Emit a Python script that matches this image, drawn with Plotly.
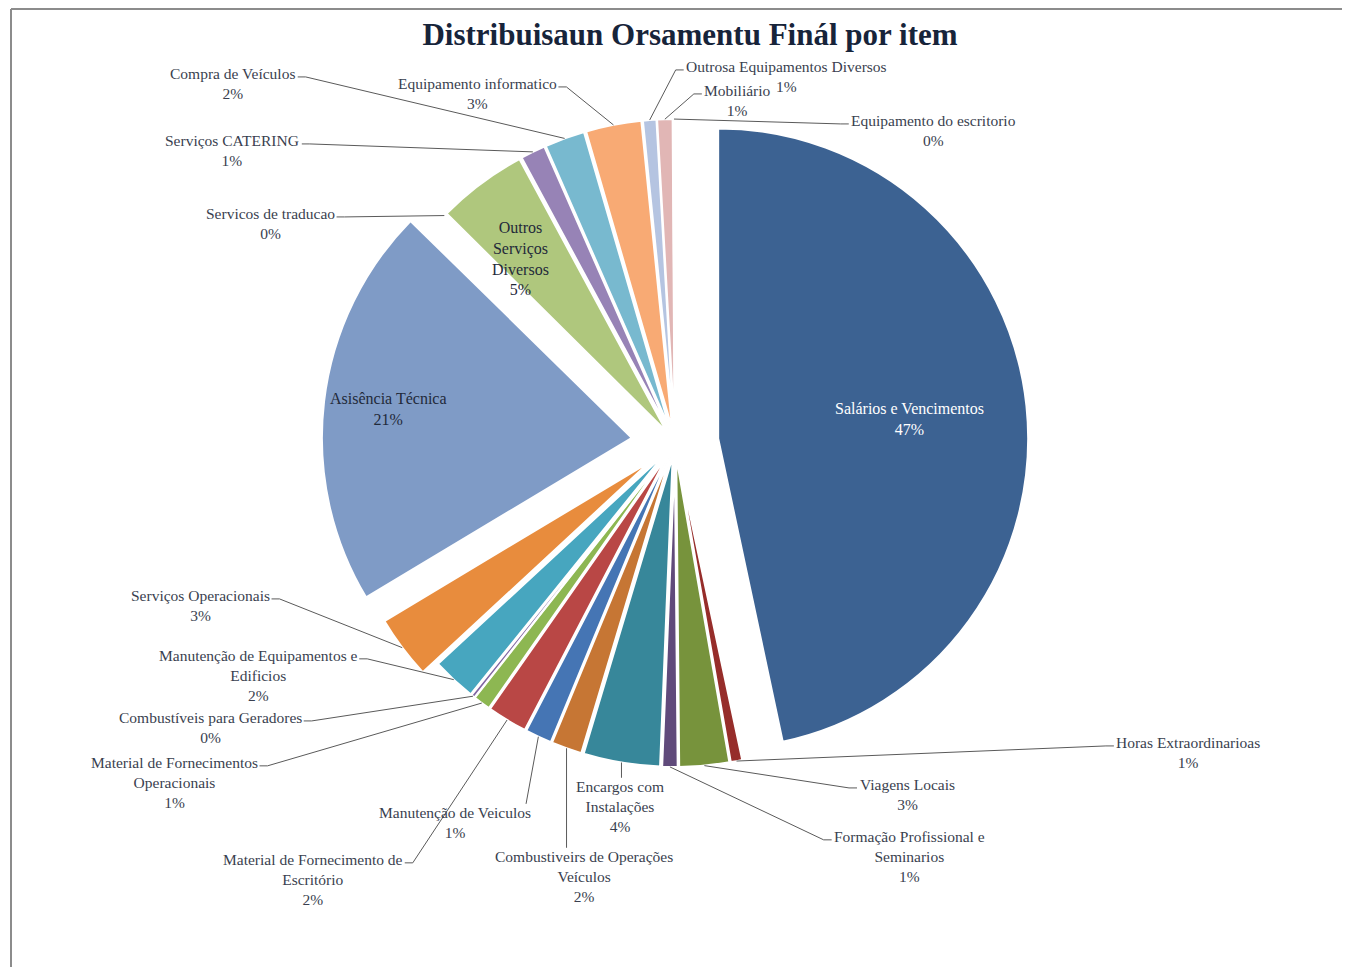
import math
import plotly.graph_objects as go

# ---------------- data (clockwise from 12 o'clock) ----------------
categories = [
    "Salários e Vencimentos",
    "Horas Extraordinarioas",
    "Viagens Locais",
    "Formação Profissional e Seminarios",
    "Encargos com Instalações",
    "Combustiveirs de Operações Veículos",
    "Manutenção de Veiculos",
    "Material de Fornecimento de Escritório",
    "Material de Fornecimentos Operacionais",
    "Combustíveis para Geradores",
    "Manutenção de Equipamentos e Edificios",
    "Serviços Operacionais",
    "Asisência Técnica",
    "Servicos de traducao",
    "Outros Serviços Diversos",
    "Serviços CATERING",
    "Compra de Veículos",
    "Equipamento informatico",
    "Outrosa Equipamentos Diversos",
    "Mobiliário",
    "Equipamento do escritorio",
]
values = [46.8, 0.6, 2.6, 0.8, 4.0, 1.6, 1.4, 2.1, 0.9, 0.2, 2.3, 3.3,
          21.0, 0.1, 4.7, 1.3, 2.1, 2.9, 0.7, 0.8, 0.1]

# label text as printed on the chart (line breaks as in the original)
display_names = [
    "Salários e Vencimentos",
    "Horas Extraordinarioas",
    "Viagens Locais",
    "Formação Profissional e<br>Seminarios",
    "Encargos com<br>Instalações",
    "Combustiveirs de Operações<br>Veículos",
    "Manutenção de Veiculos",
    "Material de Fornecimento de<br>Escritório",
    "Material de Fornecimentos<br>Operacionais",
    "Combustíveis para Geradores",
    "Manutenção de Equipamentos e<br>Edificios",
    "Serviços Operacionais",
    "Asisência Técnica",
    "Servicos de traducao",
    "Outros<br>Serviços<br>Diversos",
    "Serviços CATERING",
    "Compra de Veículos",
    "Equipamento informatico",
    "Outrosa Equipamentos Diversos",
    "Mobiliário",
    "Equipamento do escritorio",
]

# ---------------- styles ----------------
colors = ["#3C6292", "#962D2A", "#77933C", "#604A7B", "#37879A", "#C67634",
          "#4575B4", "#B94745", "#8DB752", "#7F64A2", "#47A6BF", "#E88C3D",
          "#7F9BC6", "#D99694", "#AFC77D", "#9783B6", "#78B9CF", "#F8AA74",
          "#B5C4E1", "#E1B6B5", "#D7E4BD"]
pulls = [0.14, 0.045, 0.045, 0.045, 0.045, 0.045, 0.045, 0.045, 0.045, 0.045,
         0.045, 0.10, 0.14, 0.045, 0.045, 0.045, 0.045, 0.045, 0.045, 0.045, 0.045]

# layout: outside label block centres (screen px) and where the leader joins
#   side "l": leader leaves the left end of the first line
#   side "r": leader leaves the right end of the first line
#   side "t": leader leaves the top of the block
label_pos = {
    1: (1188, 752, "l"), 2: (907, 794, "l"), 3: (909, 856, "l"),
    4: (620, 806, "t"), 5: (584, 876, "t"), 6: (455, 822, "t"),
    7: (313, 879, "r"), 8: (174, 782, "r"), 9: (210, 727, "r"),
    10: (258, 675, "r"), 11: (200, 605, "r"), 13: (270, 223, "r"),
    15: (232, 150, "r"), 16: (232, 83, "r"), 17: (477, 93, "r"),
    18: (786, 76, "l"), 19: (737, 100, "l"), 20: (933, 130, "l"),
}
inside_frac = {0: 0.60, 12: 0.79, 14: 0.70}
inside_dx = {0: 6, 12: 0, 14: -16}
inside_color = {0: "white", 12: "#1F2A3A", 14: "#1F2A3A"}

PAGE_OFF = 8                     # default body margin of the html page
W, H = 1350 - PAGE_OFF, 967 - PAGE_OFF
CX, CY, R = 675, 443, 310        # pie centre / radius in screen px
FONT = "Liberation Serif"
FS = 15.5
LINE_H = 1.3 * FS
TXT = "#3A3F4F"
LINE_C = "#5A5A5A"

# Times / Liberation Serif advance widths (1/1000 em) for leader anchoring
_w = {" ": 250, "a": 444, "b": 500, "c": 444, "d": 500, "e": 444, "f": 333,
      "g": 500, "h": 500, "i": 278, "j": 278, "k": 500, "l": 278, "m": 778,
      "n": 500, "o": 500, "p": 500, "q": 500, "r": 333, "s": 389, "t": 278,
      "u": 500, "v": 500, "w": 722, "x": 500, "y": 500, "z": 444,
      "A": 722, "B": 667, "C": 667, "D": 722, "E": 611, "F": 556, "G": 722,
      "H": 722, "I": 333, "J": 389, "K": 722, "L": 611, "M": 889, "N": 722,
      "O": 722, "P": 556, "Q": 722, "R": 667, "S": 556, "T": 611, "U": 722,
      "V": 722, "W": 944, "X": 722, "Y": 722, "Z": 611, "%": 833,
      "ç": 444, "ã": 444, "á": 444, "í": 278, "é": 444, "ó": 500, "õ": 500,
      "ê": 444}


def text_w(s):
    return sum(_w.get(ch, 500) for ch in s) * FS / 1000.0


total = sum(values)
pcts = [int(v / total * 100 + 0.5) for v in values]

max_pull = max(pulls)
half = R * (1 + max_pull)
domain_x = [(CX - PAGE_OFF - half) / W, (CX - PAGE_OFF + half) / W]
domain_y = [1 - (CY - PAGE_OFF + half) / H, 1 - (CY - PAGE_OFF - half) / H]

# slice geometry derived from values
geo = []
cum = 0.0
for v, p in zip(values, pulls):
    a0 = cum / total * 360.0
    cum += v
    a1 = cum / total * 360.0
    m = math.radians((a0 + a1) / 2)
    ox = CX + p * R * math.sin(m)
    oy = CY - p * R * math.cos(m)
    geo.append((m, ox, oy))

fig = go.Figure()
fig.add_trace(go.Scatter(x=[], y=[], showlegend=False, hoverinfo="skip"))
fig.add_trace(go.Pie(
    labels=categories, values=values, sort=False, direction="clockwise",
    rotation=0, pull=pulls, textinfo="none", showlegend=False,
    marker=dict(colors=colors, line=dict(color="white", width=2)),
    domain=dict(x=domain_x, y=domain_y),
    hovertemplate="%{label}<br>%{percent:.0%}<extra></extra>",
))

annotations = []
shapes = [
    # chart-area border (top and left edges visible in the original)
    dict(type="line", xref="paper", yref="paper", x0=(11 - PAGE_OFF) / W,
         y0=1 - 1 / H, x1=1, y1=1 - 1 / H, line=dict(color="#8C8C8C", width=2)),
    dict(type="line", xref="paper", yref="paper", x0=(11 - PAGE_OFF) / W,
         y0=0, x1=(11 - PAGE_OFF) / W, y1=1 - 1 / H,
         line=dict(color="#8C8C8C", width=2)),
]
for i, (m, ox, oy) in enumerate(geo):
    text = f"{display_names[i]}<br>{pcts[i]}%"
    if i in inside_frac:
        f = inside_frac[i]
        annotations.append(dict(
            x=ox + f * R * math.sin(m) + inside_dx[i], y=oy - f * R * math.cos(m),
            xref="x", yref="y", text=text, showarrow=False, align="center",
            font=dict(family=FONT, size=16, color=inside_color[i]),
        ))
    elif i in label_pos:
        lx, ly, side = label_pos[i]
        annotations.append(dict(
            x=lx, y=ly, xref="x", yref="y", text=text, showarrow=False,
            align="center", font=dict(family=FONT, size=FS, color=TXT),
        ))
        rx, ry = ox + R * math.sin(m), oy - R * math.cos(m)
        lines = text.split("<br>")
        first_w = text_w(lines[0])
        first_y = ly - (len(lines) - 1) * LINE_H / 2 + 4
        if side == "r":
            sx = lx + first_w / 2 + 2
            path = f"M {sx},{first_y} L {sx + 8},{first_y} L {rx},{ry}"
        elif side == "l":
            sx = lx - first_w / 2 - 2
            path = f"M {sx},{first_y} L {sx - 8},{first_y} L {rx},{ry}"
        else:
            top = ly - len(lines) * LINE_H / 2 + 2
            sx = min(max(rx, lx - first_w / 2 + 6), lx + first_w / 2 - 6)
            path = f"M {sx},{top} L {rx},{ry}"
        shapes.append(dict(type="path", xref="x", yref="y", path=path,
                           line=dict(color=LINE_C, width=1)))

fig.update_layout(
    width=W, height=H,
    margin=dict(l=0, r=0, t=0, b=0),
    paper_bgcolor="white", plot_bgcolor="white",
    title=dict(text="<b>Distribuisaun Orsamentu Finál por item</b>",
               x=(690 - PAGE_OFF) / W, xanchor="center",
               y=1 - (34 - PAGE_OFF) / H, yanchor="middle",
               font=dict(family=FONT, size=31, color="#17243A")),
    xaxis=dict(range=[PAGE_OFF, PAGE_OFF + W], visible=False, fixedrange=True),
    yaxis=dict(range=[PAGE_OFF + H, PAGE_OFF], visible=False, fixedrange=True),
    annotations=annotations,
    shapes=shapes,
)

fig.write_html("out.html")
